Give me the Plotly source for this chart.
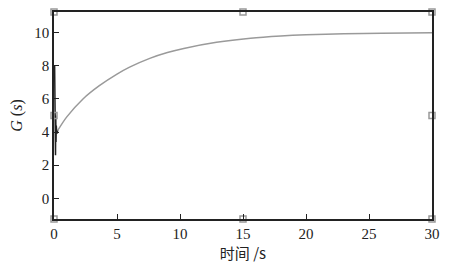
import plotly.graph_objects as go

# main response curve
t_main = [0.3, 1.0, 2.3, 3.6, 5.0, 6.0, 7.6, 9.0, 10.3, 12.9, 15.6, 18, 20, 23, 26, 30]
g_main = [4.1, 4.9, 6.0, 6.8, 7.5, 7.92, 8.45, 8.8, 9.05, 9.42, 9.67, 9.8, 9.87, 9.93, 9.97, 10.0]

# initial oscillation near t=0
t_spike = [0.05, 0.08, 0.1, 0.12, 0.14, 0.16, 0.18, 0.22, 0.3]
g_spike = [8.0, 3.2, 6.5, 2.6, 5.0, 3.4, 4.4, 3.9, 4.1]

# handle markers
hx = [0, 15, 30, 0, 30, 0, 15, 30]
hy = [11.25, 11.25, 11.25, 5, 5, -1.25, -1.25, -1.25]

xticks = [0, 5, 10, 15, 20, 25, 30]
yticks = [0, 2, 4, 6, 8, 10]

serif = '"Liberation Serif", "Times New Roman", serif'
cjk = '"Noto Sans CJK SC", sans-serif'

fig = go.Figure()
fig.add_trace(go.Scatter(x=t_main, y=g_main, mode="lines",
                         line=dict(color="#9a9a9a", width=1.5, shape="spline", smoothing=0.8)))
fig.add_trace(go.Scatter(x=t_spike, y=g_spike, mode="lines",
                         line=dict(color="#222222", width=1.5)))
fig.add_trace(go.Scatter(x=hx, y=hy, mode="markers", cliponaxis=False,
                         marker=dict(symbol="square-open", size=6, color="#999999",
                                     line=dict(width=1.5, color="#999999"))))

fig.update_layout(
    width=450, height=269,
    margin=dict(l=54, r=18, t=10, b=50),
    paper_bgcolor="white", plot_bgcolor="white",
    showlegend=False,
    font=dict(family=serif, size=15, color="#222222"),
)
fig.update_xaxes(range=[0, 30], tickvals=xticks, ticks="inside", ticklen=5,
                 tickcolor="#222", showline=True, linecolor="#222", linewidth=1.5,
                 mirror=True, showgrid=False, zeroline=False,
                 tickfont=dict(family=serif, size=15),
                 title=dict(text="时间 /s", standoff=4,
                            font=dict(family=cjk, size=15)))
fig.update_yaxes(range=[-1.25, 11.25], tickvals=yticks, ticks="inside", ticklen=5,
                 tickcolor="#222", showline=True, linecolor="#222", linewidth=1.5,
                 mirror=True, showgrid=False, zeroline=False,
                 tickfont=dict(family=serif, size=15),
                 title=dict(text="<i>G</i> (<i>s</i>)", standoff=8,
                            font=dict(family=serif, size=16)))

fig.write_html("out.html")
